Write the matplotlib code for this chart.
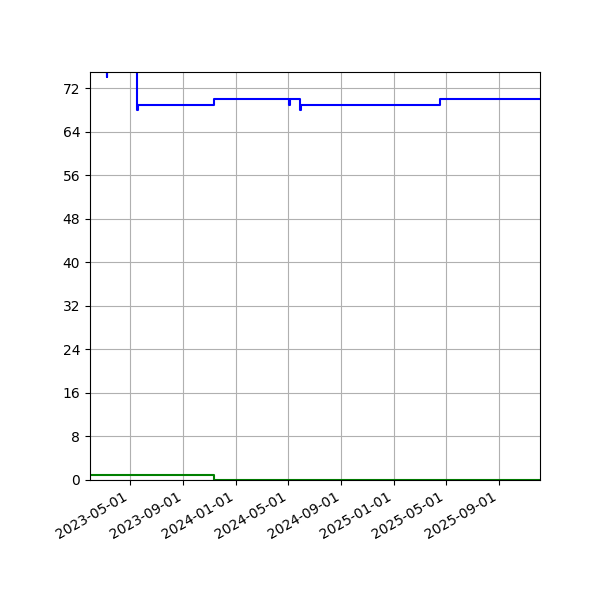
import matplotlib
matplotlib.use("Agg")
import matplotlib.pyplot as plt
import matplotlib.dates as mdates
import numpy as np

# blue series: change points (step, post)
blue_dates = np.array([
    "2023-01-28", "2023-03-08", "2023-03-09", "2023-05-17", "2023-05-18",
    "2023-11-11", "2024-05-03", "2024-05-04", "2024-05-29", "2024-05-30",
    "2025-04-17", "2025-12-05",
], dtype="datetime64[D]")
blue_values = [80, 74, 80, 68, 69, 70, 69, 70, 68, 69, 70, 70]

# green series
green_dates = np.array(["2023-01-28", "2023-11-11", "2025-12-05"], dtype="datetime64[D]")
green_values = [1, 0, 0]

fig, ax = plt.subplots(figsize=(6, 6), dpi=100)

ax.plot(blue_dates, blue_values, color="blue", drawstyle="steps-post")
ax.plot(green_dates, green_values, color="green", drawstyle="steps-post")

ax.set_xlim(blue_dates[0], blue_dates[-1])
ax.set_ylim(0, 75)
ax.yaxis.set_major_locator(plt.MultipleLocator(8))
ax.xaxis.set_major_locator(mdates.MonthLocator(bymonth=[1, 5, 9]))
ax.xaxis.set_major_formatter(mdates.DateFormatter("%Y-%m-%d"))
ax.grid(True)

fig.autofmt_xdate()
fig.subplots_adjust(left=0.15, right=0.9, top=0.88, bottom=0.2)

fig.savefig("out.png")
